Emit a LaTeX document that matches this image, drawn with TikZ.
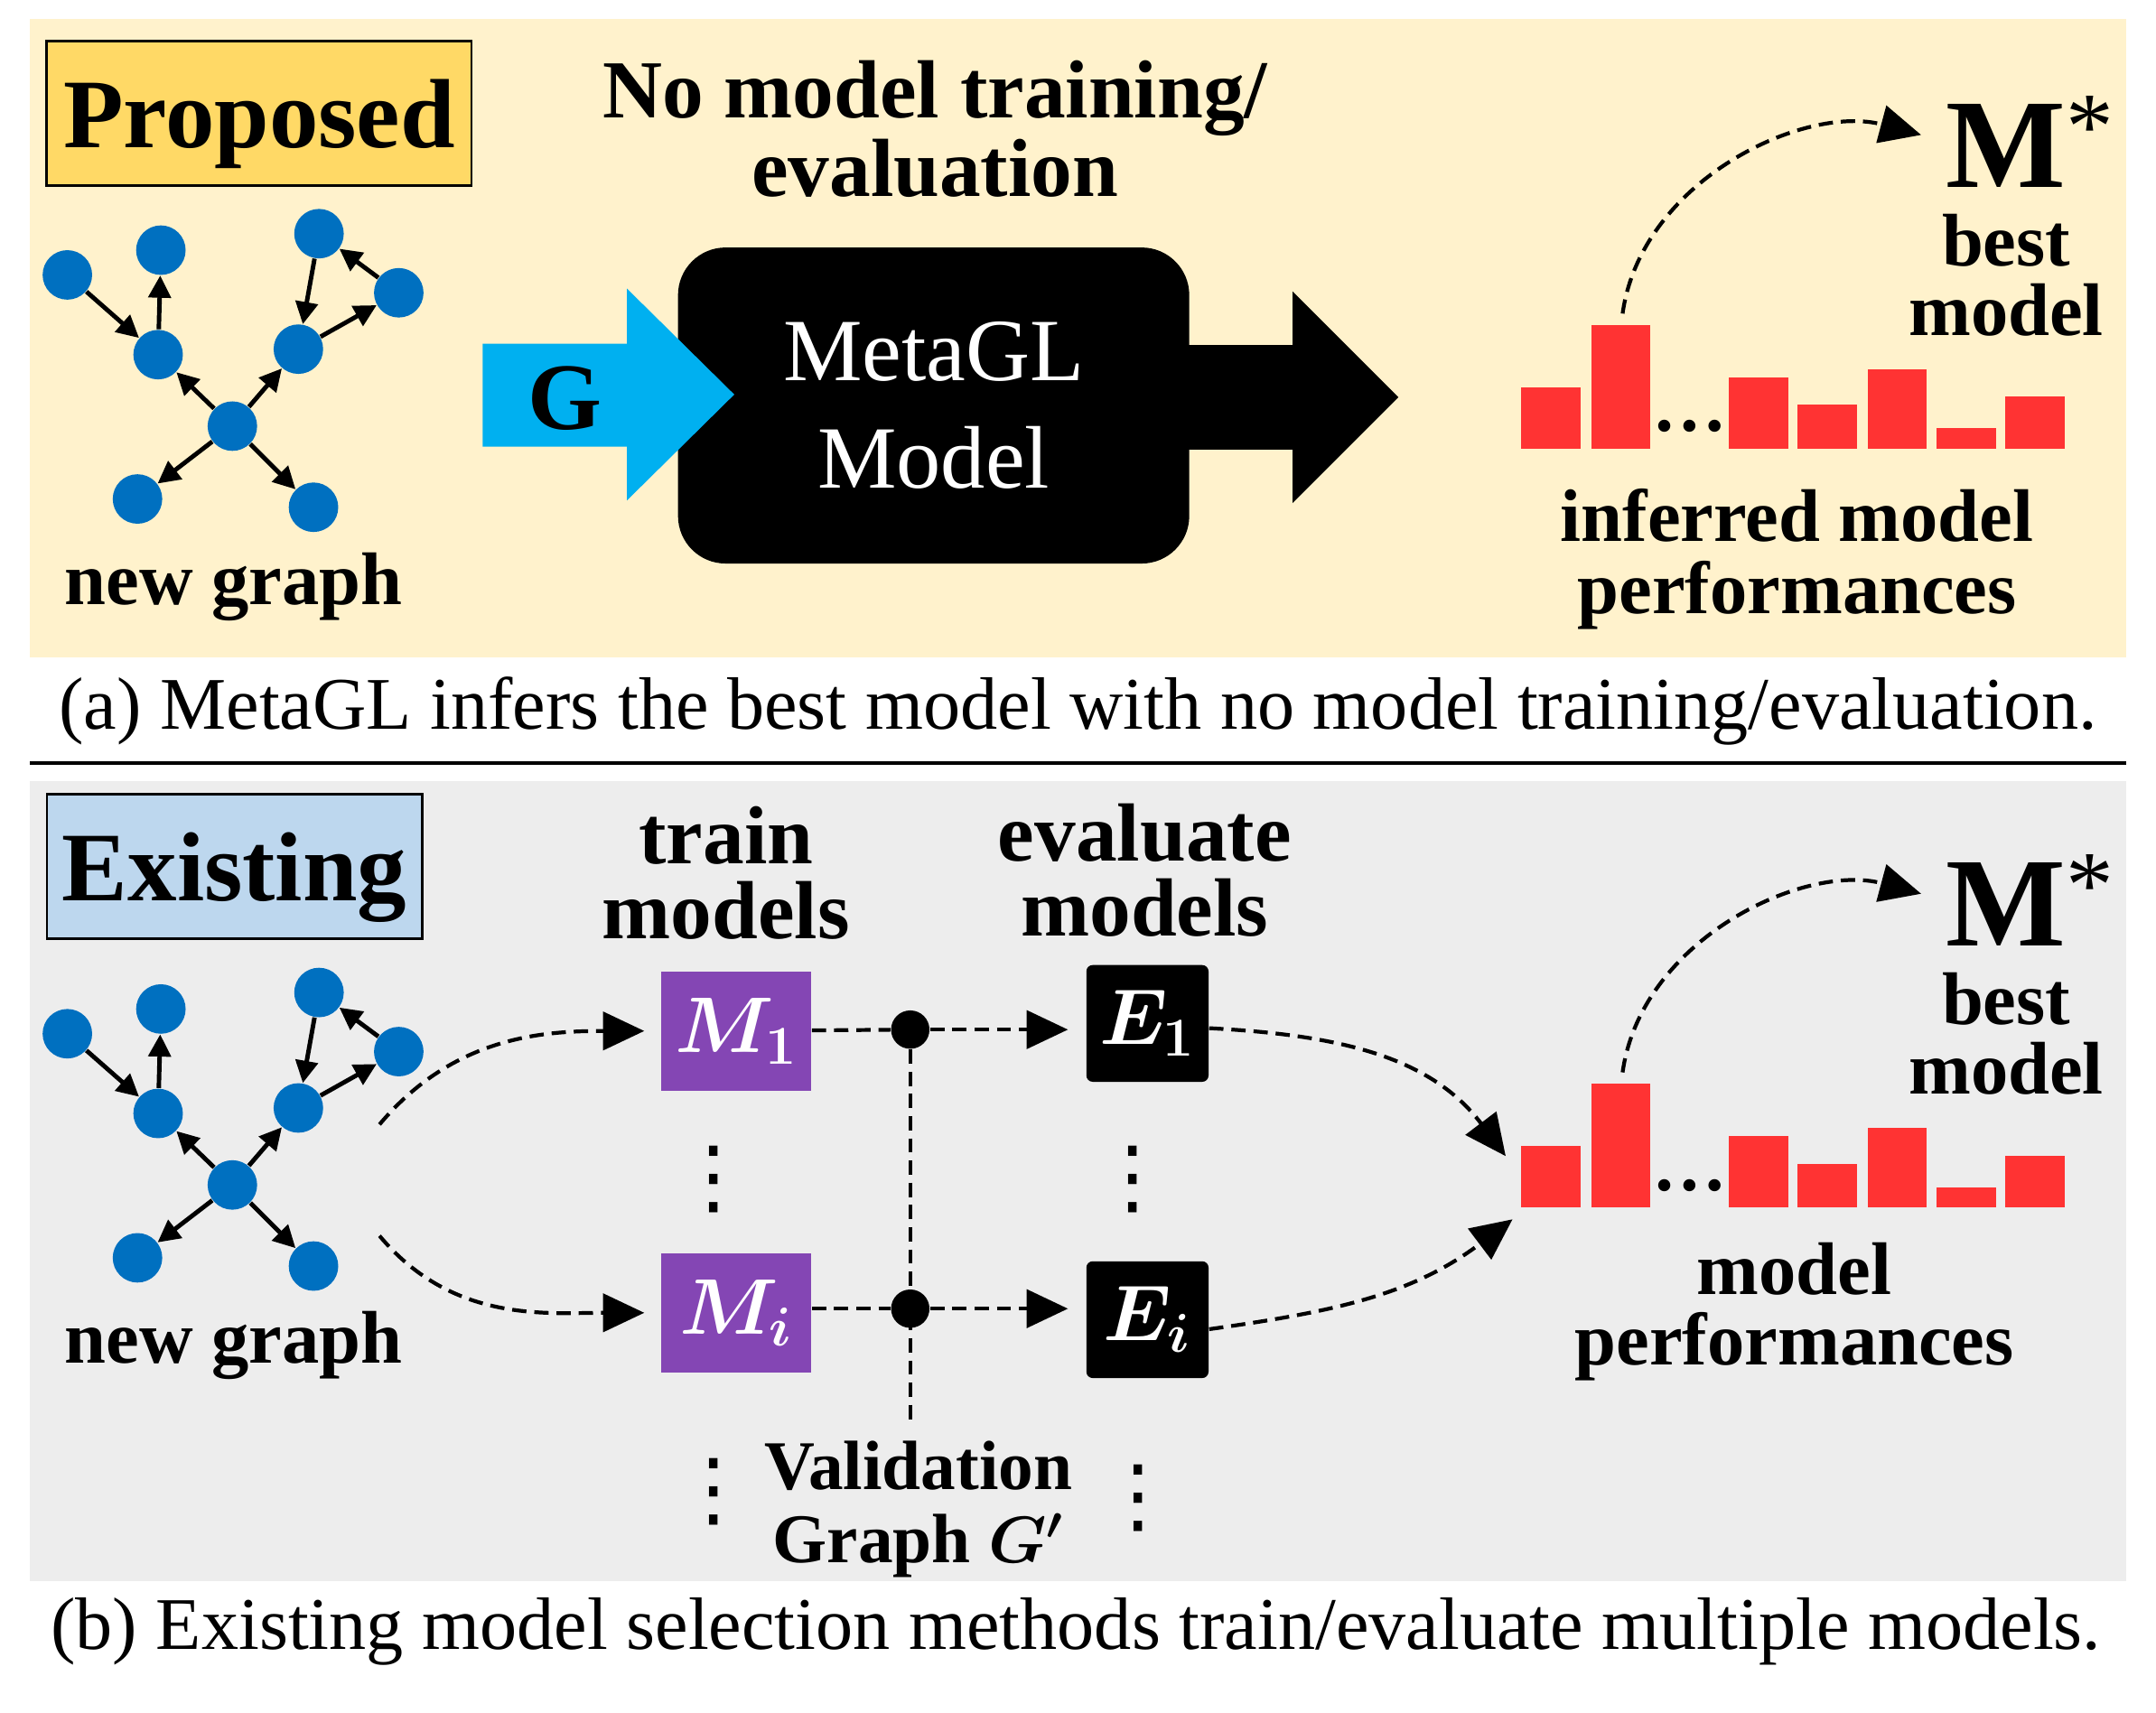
\documentclass[tikz,border=0pt]{standalone}
\usepackage{amsmath}
\usepackage{fontspec}
\setmainfont{Liberation Serif}
\newfontfamily\symfont{DejaVu Sans}
\usetikzlibrary{arrows.meta,positioning}

\definecolor{propfill}{HTML}{FFF2CC}
\definecolor{propbox}{HTML}{FFD966}
\definecolor{existfill}{HTML}{EDEDED}
\definecolor{existbox}{HTML}{BDD7EE}
\definecolor{nodeblue}{HTML}{0070C0}
\definecolor{arrowcyan}{HTML}{00B0F0}
\definecolor{modelpurple}{HTML}{8446B4}
\definecolor{barred}{HTML}{FF3333}

\begin{document}
\begin{tikzpicture}[x=0.015223cm, y=0.015223cm,
		gnode/.style={circle, fill=nodeblue, minimum size=15.6pt, inner sep=0pt},
		gedge/.style={-{Triangle[length=7pt,width=7pt]}, line width=1.4pt},
		dashed arrow/.style={dash pattern=on 4.5pt off 2.5pt, line width=1.2pt, -{Triangle[length=13pt,width=12pt]}},
		dashed line/.style={dash pattern=on 4.5pt off 2.5pt, line width=1.2pt},
		bar/.style={fill=barred, anchor=south west, minimum width=18.6pt, inner sep=0pt},
		lbl/.style={font=\fontsize{23.5}{22}\selectfont\bfseries, align=center, inner sep=0pt},
		tagbox/.style={draw, line width=0.8pt, text depth=0pt, minimum height=45.5pt, font=\fontsize{31}{31}\selectfont\bfseries},
		mbox/.style={fill=modelpurple, text=white, minimum width=47.2pt, minimum height=37.5pt, font=\fontsize{25}{25}\selectfont\boldmath},
		ebox/.style={fill=black, rounded corners=2pt, text=white, minimum width=38.5pt, minimum height=36.8pt, font=\fontsize{25}{25}\selectfont\boldmath},
		junction/.style={circle, fill=black, minimum size=12.1pt, inner sep=0pt},
		vdotsnode/.style={font=\fontsize{26}{26}\selectfont\symfont, inner sep=0pt},
		captiontext/.style={font=\fontsize{23.4}{23.4}\selectfont, inner sep=0pt}]
	\useasboundingbox (0,0) rectangle (1568,1246);
	\fill[white] (0,0) rectangle (1568,1246);

	% panels
	\fill[propfill] (22,768) rectangle (1546,1232);
	\fill[existfill] (22,96) rectangle (1546,678);
	\draw[line width=1.3pt] (22,691) -- (1546,691);

	\node[tagbox, fill=propbox, minimum width=133.8pt] (proposed) at (188.5,1163.5) {Proposed};
	\node[tagbox, fill=existbox, minimum width=118.2pt] (existing) at (170.5,615.5) {Existing};

	% the two input graphs
	\foreach \p/\dy in {a/0,b/-552} {
		\begin{scope}[shift={(0,\dy)}]
			\foreach \n/\x/\y in {1/49/1046,2/117/1064,3/232/1076,4/290/1033,5/115/988,6/217/992,7/169/936,8/100/883,9/228/877}
				\node[gnode] (\p\n) at (\x,\y) {};
			\foreach \s/\t in {1/5,5/2,3/6,4/3,6/4,7/5,7/6,7/8,7/9}
				\draw[gedge] (\p\s) -- (\p\t);
			\node[lbl] (\p new) at (170,819) {new graph};
		\end{scope}
	}

	% bars, best model
	\foreach \p/\dy in {a/0,b/-552} {
		\foreach \i/\x/\h in {1/1106/45,2/1157/90,3/1257/52,4/1307/32,5/1358/58,6/1408/15,7/1458/38}
			\node[bar, minimum height=\h*0.4331pt] (\p bar\i) at (\x,919+\dy) {};
		\node[anchor=base, inner sep=0pt, font=\fontsize{23.5}{23.5}\selectfont\bfseries] (\p dots) at (1229,932+\dy) {…};
		\node[anchor=base west, inner sep=0pt, font=\fontsize{40}{40}\selectfont\bfseries] (\p M) at (1415,1110+\dy) {M\raisebox{9pt}{\fontsize{30}{30}\selectfont\mdseries *}};
		\node[lbl] (\p best) at (1459,1046+\dy) {best\\model};
		\draw[dashed arrow, shorten <=3.5pt, shorten >=8pt] (\p bar2.north) to[out=82, in=165] (\p M.west);
	}

	% (a) MetaGL
	\node[lbl, font=\fontsize{26}{24.7}\selectfont\bfseries] (nomodel) at (680,1152) {No model training/\\evaluation};
	\fill[black] (840,995) -- (940,995) -- (940,1034) -- (1017,957) -- (940,880) -- (940,919) -- (840,919) -- cycle;
	\node[fill=black, rounded corners=15pt, minimum width=161.1pt, minimum height=99.6pt, text=white, align=center, font=\fontsize{28}{34}\selectfont] (metagl) at (679,951) {MetaGL\\Model};
	\fill[arrowcyan] (351,996) -- (456,996) -- (456,1036) -- (534,959) -- (456,882) -- (456,921) -- (351,921) -- cycle;
	\node[inner sep=0pt, font=\fontsize{30}{30}\selectfont\bfseries] (G) at (411,956) {G};
	\node[lbl, font=\fontsize{23.5}{22.8}\selectfont\bfseries] (inferred) at (1307,839) {inferred model\\performances};

	% (b) existing
	\node[lbl, font=\fontsize{26}{23.8}\selectfont\bfseries] (train) at (528,611) {train\\models};
	\node[lbl, font=\fontsize{26}{23.8}\selectfont\bfseries] (evaluate) at (832.5,613) {evaluate\\models};
	\node[mbox] (M1) at (535.5,496) {$M_1$};
	\node[mbox] (Mi) at (535.5,291) {$M_i$};
	\node[ebox] (E1) at (834.5,501.5) {$E_1$};
	\node[ebox] (Ei) at (834.5,286) {$E_i$};
	\node[junction] (d1) at (662,497) {};
	\node[junction] (d2) at (662,294) {};
	\coordinate (vend) at (662,211);
	\coordinate (bout1) at (276,428);
	\coordinate (bout2) at (276,347);
	\coordinate (bin1) at (1095,405);
	\coordinate (bin2) at (1100,359);

	\draw[dashed line] (d1) -- (vend);
	\draw[dashed line] (M1) -- (d1);
	\draw[dashed line] (Mi.east |- d2) -- (d2);
	\draw[dashed arrow, shorten >=5.6pt] (d1) -- (d1 -| E1.west);
	\draw[dashed arrow, shorten >=5.6pt] (d2) -- (d2 -| Ei.west);
	\draw[dashed arrow, shorten >=5.2pt] (bout1) to[out=50, in=180] (M1.west);
	\draw[dashed arrow, shorten >=5.2pt] (bout2) to[out=-50, in=180] (Mi.west);
	\draw[dashed arrow] ([yshift=-1.5pt]E1.east) to[out=-3, in=127] (bin1);
	\draw[dashed arrow] ([yshift=-3pt]Ei.east) to[out=8, in=-143] (bin2);

	\node[vdotsnode] (mdots) at (519,388) {⋮};
	\node[vdotsnode] (edots) at (824,388) {⋮};
	\node[vdotsnode] (mdots2) at (519,161) {⋮};
	\node[vdotsnode] (edots2) at (828,156) {⋮};
	\node[lbl, font=\fontsize{22}{23}\selectfont\bfseries] (valid) at (668,148) {Validation\\Graph $\boldsymbol{G'}$};
	\node[lbl, font=\fontsize{23.5}{22.2}\selectfont\bfseries] (perf) at (1305,292) {model\\performances};

	% captions
	\node[captiontext] (capa) at (784,728.5) {(a) MetaGL infers the best model with no model training/evaluation.};
	\node[captiontext] (capb) at (782.5,59) {(b) Existing model selection methods train/evaluate multiple models.};
\end{tikzpicture}
\end{document}
